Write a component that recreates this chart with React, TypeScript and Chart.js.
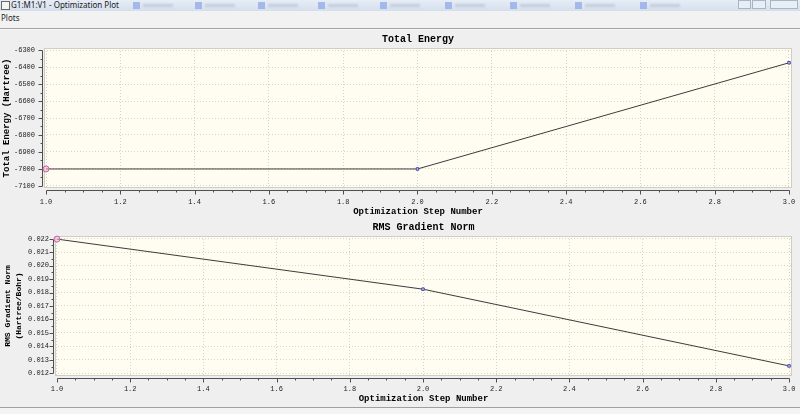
import React, { useEffect, useRef } from "react";
import { Chart, registerables } from "chart.js";

Chart.register(...registerables);

// ---------- data ----------
const STEPS = [1, 2, 3];
const ENERGY = [-7000, -7000, -6375];
const RMS_GRAD = [0.02197, 0.01825, 0.01255];

const X_TICKS = [1.0, 1.2, 1.4, 1.6, 1.8, 2.0, 2.2, 2.4, 2.6, 2.8, 3.0];
const ENERGY_TICKS = [-7100, -7000, -6900, -6800, -6700, -6600, -6500, -6400, -6300];
const RMS_TICKS = [0.012, 0.013, 0.014, 0.015, 0.016, 0.017, 0.018, 0.019, 0.02, 0.021, 0.022];

const TASK_ITEMS = [133, 195, 258, 318, 380, 445, 510, 575, 640];

const MONO = '"Liberation Mono", "DejaVu Sans Mono", monospace';
const SANS = '"Noto Sans", "DejaVu Sans", sans-serif';

// ---------- plugin: plot background, frame, offset axes with minor ticks ----------
const plotDecor = {
  id: "plotDecor",
  beforeDraw(chart: any) {
    const { ctx, chartArea: a } = chart;
    ctx.save();
    ctx.fillStyle = "#fffdf1";
    ctx.fillRect(a.left, a.top, a.right - a.left, a.bottom - a.top);
    ctx.restore();
  },
  beforeDatasetsDraw(chart: any) {
    const { ctx, chartArea: a, scales } = chart;
    const xs = scales.x;
    const ys = scales.y;
    const xt: number[] = chart.options.plugins.plotDecor.xTicks;
    const yt: number[] = chart.options.plugins.plotDecor.yTicks;
    const xMinor = chart.options.plugins.plotDecor.xMinor;
    const yMinor = chart.options.plugins.plotDecor.yMinor;
    ctx.save();
    ctx.strokeStyle = "#cfcdc4";
    ctx.lineWidth = 1;
    ctx.strokeRect(Math.round(a.left) + 0.5, Math.round(a.top) + 0.5, Math.round(a.right - a.left) - 1, Math.round(a.bottom - a.top) - 1);

    const ax = Math.round(a.left) - 1.5;
    const ay = Math.round(a.bottom) + 2.5;
    ctx.strokeStyle = "#505050";
    ctx.beginPath();
    ctx.moveTo(ax, Math.round(ys.getPixelForValue(yt[yt.length - 1])) + 0.5);
    ctx.lineTo(ax, Math.round(ys.getPixelForValue(yt[0])) + 0.5);
    ctx.moveTo(Math.round(xs.getPixelForValue(xt[0])) + 0.5, ay);
    ctx.lineTo(Math.round(xs.getPixelForValue(xt[xt.length - 1])) + 0.5, ay);

    const drawX = (v: number, len: number) => {
      const p = Math.round(xs.getPixelForValue(v)) + 0.5;
      ctx.moveTo(p, ay);
      ctx.lineTo(p, ay + len);
    };
    const drawY = (v: number, len: number) => {
      const p = Math.round(ys.getPixelForValue(v)) + 0.5;
      ctx.moveTo(ax, p);
      ctx.lineTo(ax - len, p);
    };
    xt.forEach((v) => drawX(v, 4));
    for (let i = 0; i < xt.length - 1; i++) {
      for (let k = 1; k < xMinor; k++) drawX(xt[i] + ((xt[i + 1] - xt[i]) * k) / xMinor, 2);
    }
    yt.forEach((v) => drawY(v, 4));
    for (let i = 0; i < yt.length - 1; i++) {
      for (let k = 1; k < yMinor; k++) drawY(yt[i] + ((yt[i + 1] - yt[i]) * k) / yMinor, 2);
    }
    ctx.stroke();
    ctx.restore();
  },
};

type PanelProps = {
  top: number;
  title: string;
  yTitle: string | string[];
  yTitleSize: number;
  yTitleLH: number;
  yTitlePad: number;
  values: number[];
  yMin: number;
  yMax: number;
  yTicks: number[];
  yFmt: (v: number) => string;
  yWidth: number;
  yPad: number;
  xLabelPad: number;
  xTitlePad: number;
};

function PlotPanel(p: PanelProps) {
  const ref = useRef<HTMLCanvasElement | null>(null);
  useEffect(() => {
    if (!ref.current) return;
    const chart = new Chart(ref.current, {
      type: "line",
      data: {
        labels: STEPS,
        datasets: [
          {
            data: STEPS.map((s, i) => ({ x: s, y: p.values[i] })),
            borderColor: "#3c3c3c",
            borderWidth: 1,
            tension: 0,
            clip: false,
            pointStyle: (c: any) => (c.dataIndex === 0 ? "circle" : "rect"),
            pointRadius: (c: any) => (c.dataIndex === 0 ? 3 : 1.8),
            pointBorderWidth: 1,
            pointBorderColor: (c: any) => (c.dataIndex === 0 ? "#c865a5" : "#4a4ab4"),
            pointBackgroundColor: (c: any) => (c.dataIndex === 0 ? "rgba(235,180,215,0.6)" : "#c4c4f4"),
          } as any,
        ],
      },
      options: {
        animation: false,
        responsive: false,
        devicePixelRatio: 1,
        layout: { padding: { left: 0, right: 8, top: 0, bottom: 0 } },
        plugins: {
          legend: { display: false },
          tooltip: { enabled: false },
          title: {
            display: true,
            text: p.title,
            fullSize: false,
            color: "#000",
            font: { family: MONO, size: 10, weight: "bold" },
            padding: { top: 3, bottom: 3 },
          },
          plotDecor: { xTicks: X_TICKS, yTicks: p.yTicks, xMinor: 4, yMinor: 2 },
        } as any,
        scales: {
          x: {
            type: "linear",
            min: 0.9946,
            max: 3.0081,
            afterBuildTicks: (s: any) => {
              s.ticks = X_TICKS.map((v) => ({ value: v }));
            },
            afterFit: (s: any) => {
              s.height = 30;
              s.paddingLeft = 0;
              s.paddingRight = 0;
            },
            ticks: {
              autoSkip: false,
              maxRotation: 0,
              padding: p.xLabelPad,
              color: "#222",
              font: { family: MONO, size: 7 },
              callback: (v: any) => Number(v).toFixed(1),
            },
            grid: { color: "#d9d5bd", drawTicks: false, lineWidth: 1 },
            border: { display: false, dash: [1, 2] },
            title: {
              display: true,
              text: "Optimization Step Number",
              color: "#000",
              font: { family: MONO, size: 9, weight: "bold" },
              padding: { top: 0, bottom: p.xTitlePad },
            },
          },
          y: {
            type: "linear",
            min: p.yMin,
            max: p.yMax,
            afterBuildTicks: (s: any) => {
              s.ticks = p.yTicks.map((v) => ({ value: v }));
            },
            afterFit: (s: any) => {
              s.width = p.yWidth;
              s.paddingTop = 0;
              s.paddingBottom = 0;
            },
            ticks: {
              autoSkip: false,
              padding: p.yPad,
              color: "#222",
              font: { family: MONO, size: 7 },
              callback: (v: any) => p.yFmt(Number(v)),
            },
            grid: { color: "#d9d5bd", drawTicks: false, lineWidth: 1 },
            border: { display: false, dash: [1, 2] },
            title: {
              display: true,
              text: p.yTitle,
              color: "#000",
              font: { family: MONO, size: p.yTitleSize, weight: "bold", lineHeight: p.yTitleLH },
              padding: { top: p.yTitlePad, bottom: 0 },
            },
          },
        },
      },
      plugins: [plotDecor],
    } as any);
    return () => chart.destroy();
  }, []);
  return (
    <canvas
      ref={ref}
      width={800}
      height={188}
      style={{ position: "absolute", left: 0, top: p.top, width: 800, height: 188 }}
    />
  );
}

export default function App() {
  return (
    <div
      style={{
        position: "fixed",
        left: 0,
        top: 0,
        width: 800,
        height: 414,
        overflow: "hidden",
        background: "#efefef",
        fontFamily: SANS,
      }}
    >
      {/* title bar */}
      <div
        style={{
          position: "absolute",
          left: 0,
          top: 0,
          width: 800,
          height: 11,
          background: "linear-gradient(#e6edf6, #d5dfec)",
        }}
      >
        <div
          style={{
            position: "absolute",
            left: 1,
            top: 1,
            width: 7,
            height: 7,
            border: "1px solid #6a6a6a",
            background: "#f4f4f4",
          }}
        />
        <div
          style={{
            position: "absolute",
            left: 11,
            top: 0,
            fontSize: 8,
            lineHeight: "10px",
            color: "#1a1a1a",
            whiteSpace: "nowrap",
          }}
        >
          G1:M1:V1 - Optimization Plot
        </div>
        {TASK_ITEMS.map((x, i) => (
          <React.Fragment key={i}>
            <div
              style={{
                position: "absolute",
                left: x,
                top: 2,
                width: 7,
                height: 7,
                background: "#8aa6e8",
                opacity: 0.7,
                filter: "blur(0.6px)",
              }}
            />
            <div
              style={{
                position: "absolute",
                left: x + 10,
                top: 4,
                width: 30,
                height: 3,
                background: "#b9c3d3",
                opacity: 0.7,
                filter: "blur(0.8px)",
              }}
            />
          </React.Fragment>
        ))}
        {[
          [738, 13],
          [752, 14],
          [770, 28],
        ].map(([x, w], i) => (
          <div
            key={"b" + i}
            style={{
              position: "absolute",
              left: x,
              top: 0,
              width: w,
              height: 9,
              border: "1px solid #a9b4c4",
              background: "#e8eef6",
              boxSizing: "border-box",
            }}
          />
        ))}
      </div>
      {/* menu bar */}
      <div
        style={{
          position: "absolute",
          left: 0,
          top: 11,
          width: 800,
          height: 17,
          background: "#f2f2f2",
        }}
      >
        <div style={{ position: "absolute", left: 1, top: 2, fontSize: 8, lineHeight: "10px", color: "#222" }}>
          Plots
        </div>
      </div>
      <div style={{ position: "absolute", left: 0, top: 28, width: 800, height: 1, background: "#a3a3a3" }} />
      <div style={{ position: "absolute", left: 0, top: 29, width: 800, height: 1, background: "#fafafa" }} />

      <PlotPanel
        top={30}
        title="Total Energy"
        yTitle="Total Energy (Hartree)"
        yTitleSize={9}
        yTitleLH={1.2}
        yTitlePad={1.5}
        values={ENERGY}
        yMin={-7112}
        yMax={-6288}
        yTicks={ENERGY_TICKS}
        yFmt={(v) => String(Math.round(v))}
        yWidth={44}
        yPad={9}
        xLabelPad={10}
        xTitlePad={0.6}
      />
      <PlotPanel
        top={218}
        title="RMS Gradient Norm"
        yTitle={["RMS Gradient Norm", "(Hartree/Bohr)"]}
        yTitleSize={8}
        yTitleLH={1.375}
        yTitlePad={2.5}
        values={RMS_GRAD}
        yMin={0.0118}
        yMax={0.0222}
        yTicks={RMS_TICKS}
        yFmt={(v) => v.toFixed(3)}
        yWidth={55}
        yPad={6}
        xLabelPad={9}
        xTitlePad={1.6}
      />

      <div style={{ position: "absolute", left: 0, top: 407, width: 800, height: 1, background: "#a0a0a0" }} />
      <div style={{ position: "absolute", left: 0, top: 408, width: 800, height: 6, background: "#f4f4f4" }} />
    </div>
  );
}
